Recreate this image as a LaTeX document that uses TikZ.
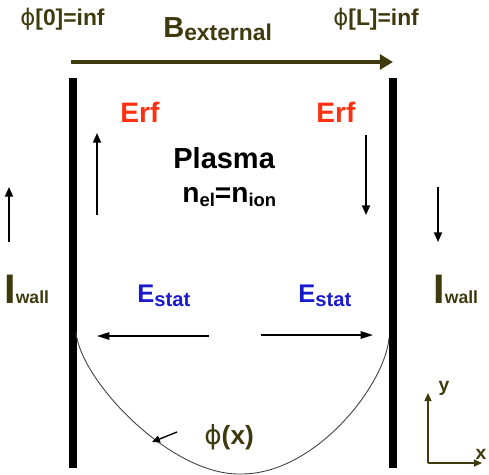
\documentclass[tikz,border=0pt]{standalone}
\usepackage{fontspec}
\setmainfont{Liberation Sans}
\newfontfamily\phifont{DejaVu Sans}
\usetikzlibrary{arrows.meta}
\definecolor{plolive}{RGB}{62,58,14}
\definecolor{plred}{RGB}{255,48,16}
\definecolor{plblue}{RGB}{26,26,204}
\newcommand{\fsz}[1]{\fontsize{#1}{#1}\selectfont}
\newcommand{\lowsub}[3]{\raisebox{-#3}{\fsz{#2}#1}}
\newcommand{\sphi}{{\phifont\mdseries ϕ}}

\begin{document}
\begin{tikzpicture}[x=0.02cm, y=-0.02cm,
  lbl/.style={anchor=base west, inner sep=0pt, font=\bfseries},
  wall/.style={line width=4pt, black},
  vec/.style={-{Triangle[length=5.5pt,width=4.6pt]}, line width=0.9pt, black},
  hvec/.style={-{Triangle[length=7pt,width=4.2pt]}, line width=0.9pt, black},
  axis/.style={-{Triangle[length=4.6pt,width=4pt]}, line width=0.9pt, plolive},
  field/.style={-{Triangle[length=7.5pt,width=8.5pt]}, line width=2.3pt, plolive}
]
\useasboundingbox (0,0) rectangle (489,474);

% top labels and field
\node[lbl, text=plolive] (phi0) at (20,25) {\fsz{13}\sphi[0]=inf};
\node[lbl, text=plolive] (phiL) at (333,25) {\fsz{13}\sphi[L]=inf};
\node[lbl, text=plolive] (bext) at (163,37) {\fsz{16.5}B\lowsub{external}{13}{2pt}};
\coordinate (b0) at (71,62);
\coordinate (b1) at (393,62);
\draw[field] (b0) -- (b1);

% walls
\coordinate (lw0) at (73,78);  \coordinate (lw1) at (73,468);
\coordinate (rw0) at (393,78); \coordinate (rw1) at (393,468);
\draw[wall] (lw0) -- (lw1);
\draw[wall] (rw0) -- (rw1);

% rf field
\node[lbl, text=plred] (erfl) at (120,122) {\fsz{16}Erf};
\node[lbl, text=plred] (erfr) at (316,122) {\fsz{16}Erf};
\coordinate (el0) at (97,215);  \coordinate (el1) at (97,133);
\coordinate (er0) at (366,135); \coordinate (er1) at (366,215);
\draw[vec] (el0) -- (el1);
\draw[vec] (er0) -- (er1);

% plasma
\node[lbl] (plasma) at (173,168) {\fsz{16.5}Plasma};
\node[lbl] (dens) at (182,202) {\fsz{16}n\lowsub{el}{10.5}{2.3pt}=n\lowsub{ion}{10.5}{2.3pt}};

% wall currents
\node[lbl, text=plolive] (iwl) at (4,303) {\fsz{23.5}I\fsz{10}wall};
\node[lbl, text=plolive] (iwr) at (433,303) {\fsz{23.5}I\fsz{10}wall};
\coordinate (il0) at (9,242);   \coordinate (il1) at (9,187);
\coordinate (ir0) at (438,187); \coordinate (ir1) at (438,242);
\draw[vec] (il0) -- (il1);
\draw[vec] (ir0) -- (ir1);

% static field
\node[lbl, text=plblue] (esl) at (137,302) {\fsz{14.5}E\lowsub{stat}{11.5}{2.3pt}};
\node[lbl, text=plblue] (esr) at (298,302) {\fsz{14.5}E\lowsub{stat}{11.5}{2.3pt}};
\coordinate (sl0) at (209,336); \coordinate (sl1) at (97,336);
\coordinate (sr0) at (261,335); \coordinate (sr1) at (373,335);
\draw[hvec] (sl0) -- (sl1);
\draw[hvec] (sr0) -- (sr1);

% potential
\coordinate (p0) at (76,332);
\coordinate (pm) at (240,474);
\coordinate (p1) at (389,338);
\draw[black!75, line width=0.5pt] (p0) .. controls (80,380) and (170,475) .. (pm)
  .. controls (315,475) and (385,385) .. (p1);
\node[lbl, text=plolive] (phix) at (204,444) {\fsz{15}\sphi(x)};
\coordinate (pa0) at (177,432); \coordinate (pa1) at (152,442);
\draw[-{Triangle[length=4.5pt,width=4pt]}, line width=0.8pt] (pa0) -- (pa1);

% axes
\coordinate (org) at (428,463);
\coordinate (ytip) at (428,393);
\coordinate (xtip) at (482,463);
\draw[axis] (org) -- (ytip);
\draw[axis] (org) -- (xtip);
\node[text=plolive, font=\bfseries\fsz{11}, inner sep=0pt] (ylab) at (444,388) {y};
\node[text=plolive, font=\bfseries\fsz{11}, inner sep=0pt] (xlab) at (481,454) {x};
\end{tikzpicture}
\end{document}
